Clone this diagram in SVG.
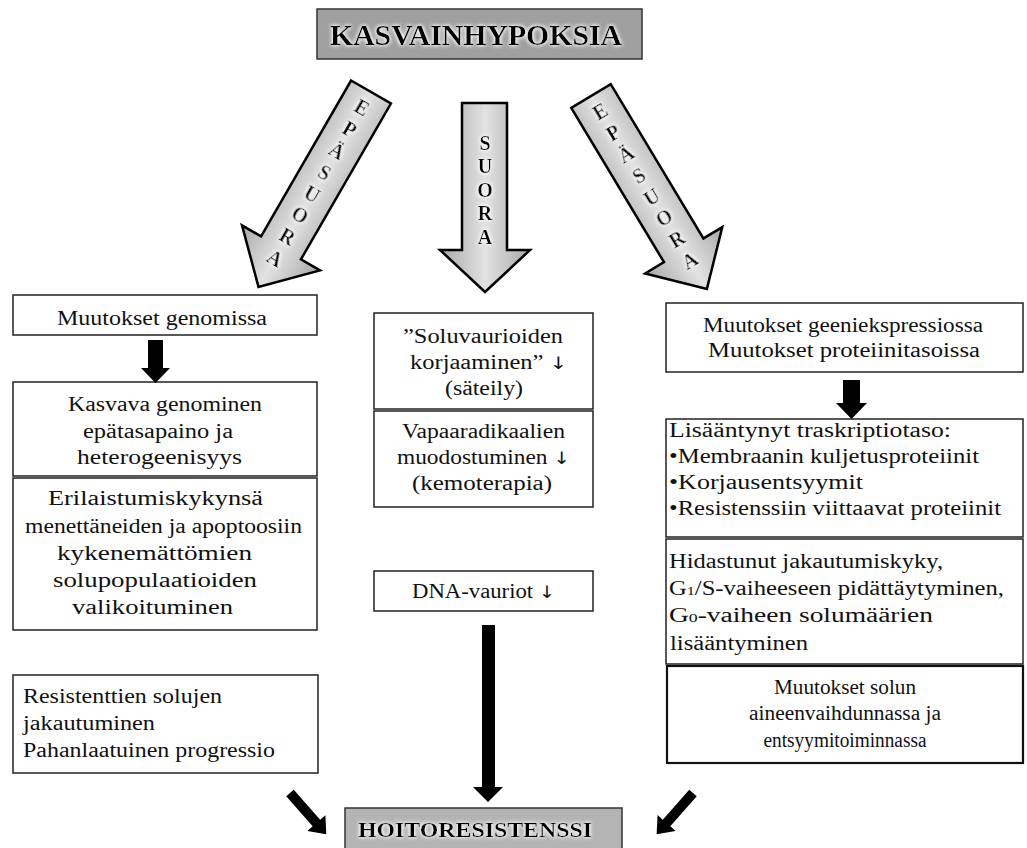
<svg xmlns="http://www.w3.org/2000/svg" width="1027" height="848" viewBox="0 0 1027 848">
<defs>
<style>
.t{font-family:"Liberation Serif","Times New Roman",serif;font-size:20px;fill:#111}
.c{text-anchor:middle}
.ar{font-family:"DejaVu Sans",sans-serif;font-size:17px}
.box{fill:#fff;stroke:#222;stroke-width:1.5}
.big{stroke:#000;stroke-width:2.5;stroke-linejoin:miter}
.blk{fill:#000}
.lt{font-family:"Liberation Serif","Times New Roman",serif;font-size:20px;font-weight:bold;fill:#000;text-anchor:middle}
.hd{font-family:"Liberation Serif","Times New Roman",serif;font-weight:bold;fill:#000;text-anchor:middle}
</style>
<linearGradient id="ag" gradientUnits="userSpaceOnUse" x1="-45" y1="0" x2="45" y2="0">
<stop offset="0" stop-color="#a8a8a8"/><stop offset="0.5" stop-color="#e2e2e2"/><stop offset="1" stop-color="#a8a8a8"/>
</linearGradient>
<linearGradient id="agm" gradientUnits="userSpaceOnUse" x1="440" y1="0" x2="530" y2="0">
<stop offset="0" stop-color="#a8a8a8"/><stop offset="0.5" stop-color="#e2e2e2"/><stop offset="1" stop-color="#a8a8a8"/>
</linearGradient>
<filter id="glow" x="-30%" y="-30%" width="160%" height="160%">
<feGaussianBlur in="SourceAlpha" stdDeviation="2" result="b"/>
<feFlood flood-color="#fff"/>
<feComposite in2="b" operator="in" result="g"/>
<feMerge><feMergeNode in="g"/><feMergeNode in="g"/><feMergeNode in="SourceGraphic"/></feMerge>
</filter>
</defs>
<rect width="1027" height="848" fill="#fff"/>

<g id="title">
<rect x="317" y="9" width="325" height="50" fill="#a0a0a0" stroke="#333" stroke-width="1.5"/>
<text class="hd" x="476" y="45" font-size="30" textLength="292" lengthAdjust="spacingAndGlyphs" filter="url(#glow)">KASVAINHYPOKSIA</text>
</g>

<g id="arrow-left">
<g transform="translate(371,92) rotate(30)">
<path class="big" fill="url(#ag)" d="M-23,0 L23,0 L23,180 L45,180 L0,225 L-45,180 L-23,180 Z"/>
<g filter="url(#glow)">
<text class="lt" x="0" y="25">E</text>
<text class="lt" x="0" y="50">P</text>
<text class="lt" x="0" y="75">Ä</text>
<text class="lt" x="0" y="100">S</text>
<text class="lt" x="0" y="125">U</text>
<text class="lt" x="0" y="149">O</text>
<text class="lt" x="0" y="174">R</text>
<text class="lt" x="0" y="199">A</text>
</g>
</g>
</g>

<g id="arrow-middle">
<path class="big" fill="url(#agm)" d="M462,103 L507,103 L507,250 L530,250 L485,292 L440,250 L462,250 Z"/>
<g filter="url(#glow)">
<text class="lt" x="485" y="150">S</text>
<text class="lt" x="485" y="173">U</text>
<text class="lt" x="485" y="197">O</text>
<text class="lt" x="485" y="220">R</text>
<text class="lt" x="485" y="244">A</text>
</g>
</g>

<g id="arrow-right">
<g transform="translate(591,96) rotate(-31)">
<path class="big" fill="url(#ag)" d="M-23,0 L23,0 L23,180 L45,180 L0,225 L-45,180 L-23,180 Z"/>
<g filter="url(#glow)">
<text class="lt" x="0" y="25">E</text>
<text class="lt" x="0" y="50">P</text>
<text class="lt" x="0" y="75">Ä</text>
<text class="lt" x="0" y="100">S</text>
<text class="lt" x="0" y="125">U</text>
<text class="lt" x="0" y="149">O</text>
<text class="lt" x="0" y="174">R</text>
<text class="lt" x="0" y="199">A</text>
</g>
</g>
</g>

<g id="node-genomissa">
<rect class="box" x="13" y="295" width="304" height="40"/>
<text class="t" x="57" y="325" textLength="210" lengthAdjust="spacingAndGlyphs">Muutokset genomissa</text>
</g>

<g id="node-kasvava">
<rect class="box" x="13" y="382" width="304" height="94"/>
<text class="t" x="68" y="411" textLength="194" lengthAdjust="spacingAndGlyphs">Kasvava genominen</text>
<text class="t" x="83" y="438" textLength="150" lengthAdjust="spacingAndGlyphs">epätasapaino ja</text>
<text class="t" x="77" y="464" textLength="165" lengthAdjust="spacingAndGlyphs">heterogeenisyys</text>
</g>

<g id="node-erilaistumis">
<rect class="box" x="13" y="478" width="304" height="152"/>
<text class="t" x="48" y="505" textLength="215" lengthAdjust="spacingAndGlyphs">Erilaistumiskykynsä</text>
<text class="t" x="25" y="533" textLength="277" lengthAdjust="spacingAndGlyphs">menettäneiden ja apoptoosiin</text>
<text class="t" x="57" y="560" textLength="195" lengthAdjust="spacingAndGlyphs">kykenemättömien</text>
<text class="t" x="53" y="587" textLength="204" lengthAdjust="spacingAndGlyphs">solupopulaatioiden</text>
<text class="t" x="72" y="614" textLength="161" lengthAdjust="spacingAndGlyphs">valikoituminen</text>
</g>

<g id="node-resistenttien">
<rect class="box" x="13" y="675" width="305" height="98"/>
<text class="t" x="23" y="703" textLength="199" lengthAdjust="spacingAndGlyphs">Resistenttien solujen</text>
<text class="t" x="23" y="730" textLength="132" lengthAdjust="spacingAndGlyphs">jakautuminen</text>
<text class="t" x="23" y="757" textLength="252" lengthAdjust="spacingAndGlyphs">Pahanlaatuinen progressio</text>
</g>

<g id="node-soluvaurioiden">
<rect class="box" x="374" y="313" width="219" height="96"/>
<text class="t" x="403" y="343" textLength="160" lengthAdjust="spacingAndGlyphs">”Soluvaurioiden</text>
<text class="t" x="410" y="369" textLength="157" lengthAdjust="spacingAndGlyphs">korjaaminen” <tspan class="ar">↓</tspan></text>
<text class="t" x="445" y="395" textLength="78" lengthAdjust="spacingAndGlyphs">(säteily)</text>
</g>

<g id="node-vapaaradikaalien">
<rect class="box" x="374" y="411" width="219" height="96"/>
<text class="t" x="402" y="438" textLength="163" lengthAdjust="spacingAndGlyphs">Vapaaradikaalien</text>
<text class="t" x="397" y="464" textLength="173" lengthAdjust="spacingAndGlyphs">muodostuminen <tspan class="ar">↓</tspan></text>
<text class="t" x="412" y="490" textLength="140" lengthAdjust="spacingAndGlyphs">(kemoterapia)</text>
</g>

<g id="node-dna">
<rect class="box" x="374" y="571" width="219" height="40"/>
<text class="t" x="412" y="598" textLength="143" lengthAdjust="spacingAndGlyphs">DNA-vauriot <tspan class="ar">↓</tspan></text>
</g>

<g id="node-geeniekspressio">
<rect class="box" x="666" y="303" width="357" height="69"/>
<text class="t" x="703" y="332" textLength="280" lengthAdjust="spacingAndGlyphs">Muutokset geeniekspressiossa</text>
<text class="t" x="708" y="357" textLength="272" lengthAdjust="spacingAndGlyphs">Muutokset  proteiinitasoissa</text>
</g>

<g id="node-transkriptio">
<rect class="box" x="666" y="419" width="357" height="118"/>
<text class="t" x="669" y="437" textLength="282" lengthAdjust="spacingAndGlyphs">Lisääntynyt traskriptiotaso:</text>
<text class="t" x="669" y="463" textLength="310" lengthAdjust="spacingAndGlyphs">•Membraanin kuljetusproteiinit</text>
<text class="t" x="669" y="489" textLength="194" lengthAdjust="spacingAndGlyphs">•Korjausentsyymit</text>
<text class="t" x="669" y="515" textLength="332" lengthAdjust="spacingAndGlyphs">•Resistenssiin viittaavat proteiinit</text>
</g>

<g id="node-hidastunut">
<rect class="box" x="666" y="539" width="357" height="125"/>
<text class="t" x="669" y="568" textLength="274" lengthAdjust="spacingAndGlyphs">Hidastunut jakautumiskyky,</text>
<text class="t" x="669" y="595" textLength="335" lengthAdjust="spacingAndGlyphs">G<tspan font-size="13">1</tspan>/S-vaiheeseen pidättäytyminen,</text>
<text class="t" x="669" y="622" textLength="264" lengthAdjust="spacingAndGlyphs">G<tspan font-size="13">0</tspan>-vaiheen solumäärien</text>
<text class="t" x="670" y="650" textLength="138" lengthAdjust="spacingAndGlyphs">lisääntyminen</text>
</g>

<g id="node-aineenvaihdunta">
<rect x="667" y="666" width="356" height="97" fill="#fff" stroke="#111" stroke-width="2.2"/>
<text class="t c" x="845" y="694" textLength="142" lengthAdjust="spacingAndGlyphs">Muutokset solun</text>
<text class="t c" x="845" y="720" textLength="192" lengthAdjust="spacingAndGlyphs">aineenvaihdunnassa ja</text>
<text class="t c" x="845" y="747" textLength="163" lengthAdjust="spacingAndGlyphs">entsyymitoiminnassa</text>
</g>

<g id="node-hoitoresistenssi">
<rect x="345" y="808" width="277" height="44" fill="#b4b4b4" stroke="#333" stroke-width="1.5"/>
<text class="hd" x="475" y="837" font-size="22" textLength="234" lengthAdjust="spacingAndGlyphs" filter="url(#glow)">HOITORESISTENSSI</text>
</g>

<g id="connectors">
<path class="blk" d="M148,340 H163 V368 H170 L155.5,383 L141,368 H148 Z"/>
<path class="blk" d="M843,380 H860 V403 H867 L851.5,419 L836,403 H843 Z"/>
<path class="blk" d="M482,625 H495 V787 H503 L488,802 L473,787 H482 Z"/>
<g transform="translate(290,793) rotate(-41.3)">
<path class="blk" d="M-5,0 H5 V40 H12 L0,55 L-12,40 H-5 Z"/>
</g>
<g transform="translate(693,793) rotate(41.4)">
<path class="blk" d="M-5,0 H5 V40 H12 L0,55 L-12,40 H-5 Z"/>
</g>
</g>
</svg>
